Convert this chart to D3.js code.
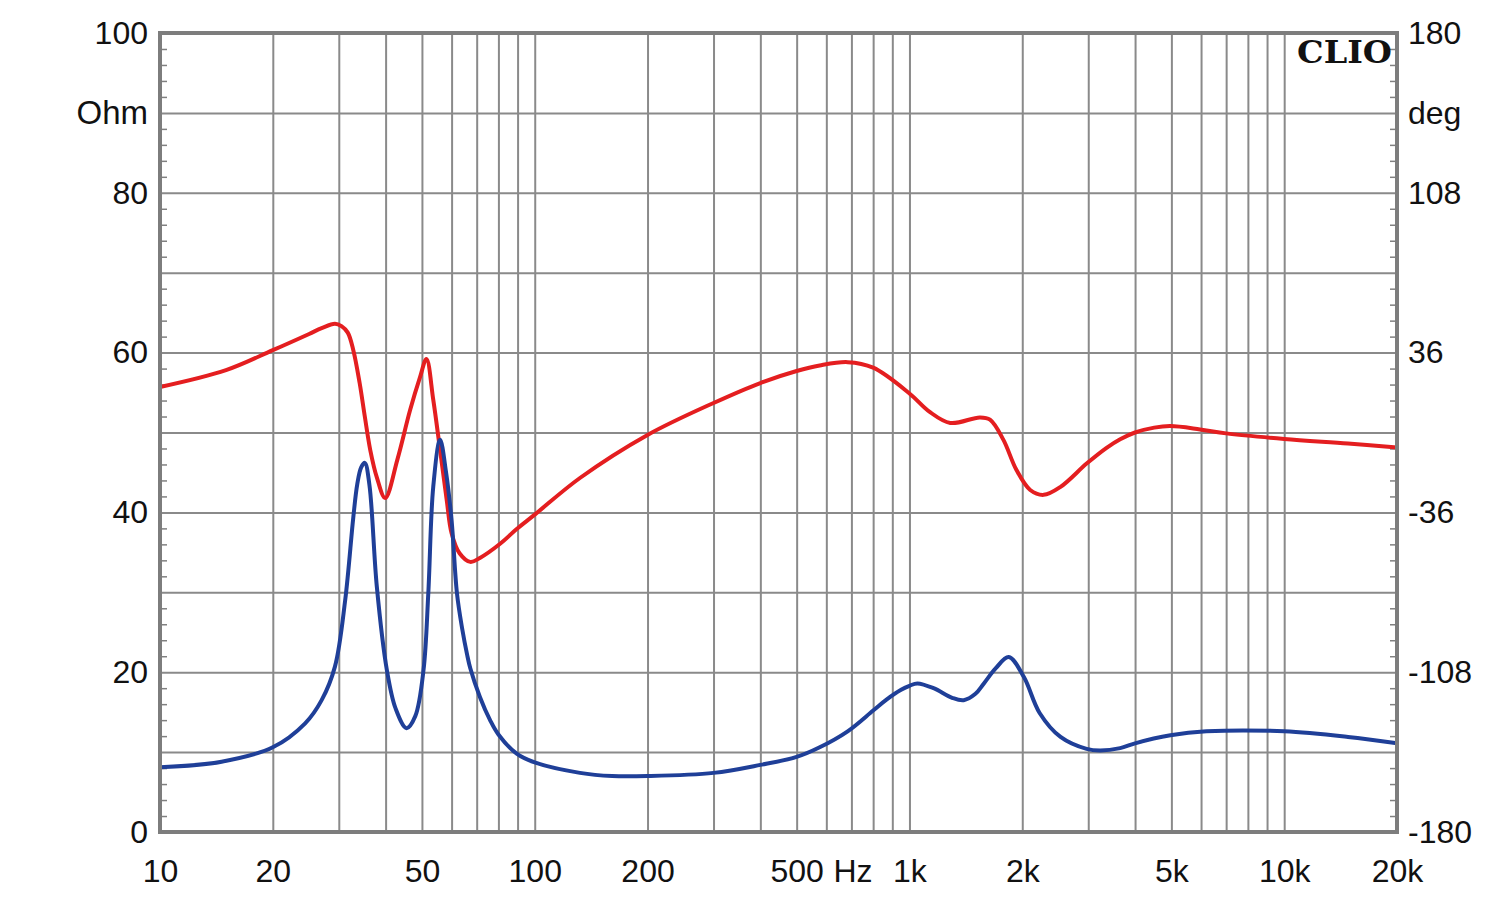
<!DOCTYPE html>
<html>
<head>
<meta charset="utf-8">
<script src="https://cdn.jsdelivr.net/npm/d3@7"></script>
<style>
  html, body { margin: 0; padding: 0; background: #ffffff; }
  svg { display: block; }
  text { font-family: "Liberation Sans", Arial, sans-serif; fill: #111; }
</style>
</head>
<body>
<svg id="chart" width="1500" height="902"></svg>
<script>
// ---------- data ----------
const impFreq = [10, 14.6, 20, 24.4, 27, 29.3, 31.2, 32.8, 33.6, 34.4, 35.2, 36.2, 37.9, 40.3, 42.5, 45.5, 48, 50.5, 52, 53.6, 55.9, 58, 60, 62, 64, 66, 67.3, 71.4, 76, 80, 89.5, 100, 132, 161, 200, 300, 400, 500, 576, 684, 800, 870, 950, 1000, 1050, 1160, 1300, 1395, 1500, 1580, 1700, 1840, 2020, 2225, 2530, 2970, 3230, 3650, 4000, 4970, 6200, 10000, 14800, 20000];
const impOhm  = [8.1, 8.8, 10.6, 13.6, 16.5, 20.7, 29, 39.4, 43.5, 45.6, 46.2, 43.5, 30.7, 20.3, 15.5, 13.0, 14.5, 20.3, 29.9, 43.2, 49.1, 45, 39.0, 29.9, 25.5, 22.2, 20.5, 16.9, 14.0, 12.2, 9.8, 8.7, 7.4, 7.0, 7.0, 7.4, 8.4, 9.4, 10.6, 12.6, 15.2, 16.6, 17.8, 18.3, 18.6, 18.0, 16.8, 16.5, 17.3, 18.6, 20.5, 21.9, 19.4, 14.9, 11.9, 10.4, 10.2, 10.5, 11.1, 12.1, 12.6, 12.6, 11.9, 11.1];

const phaseFreq = [10, 15, 20, 25, 27, 29.3, 30.5, 31.7, 32.8, 34.1, 35.2, 36.4, 37.9, 39.9, 43, 46.5, 49.4, 51.4, 53.6, 55.9, 58.2, 60, 63, 67.3, 71.4, 81, 89.5, 100, 132, 200, 300, 400, 500, 576, 684, 800, 1000, 1130, 1285, 1540, 1640, 1780, 1930, 2100, 2280, 2530, 2970, 3350, 3650, 4000, 4500, 4970, 5960, 7000, 10000, 14800, 20000];
const phaseDeg  = [20.5, 28.1, 37.1, 44.4, 47.0, 49.0, 47.9, 45.0, 37.1, 22.3, 7.2, -7.9, -20.2, -29.5, -12.2, 10.1, 24.8, 33.1, 14.8, -7.9, -30.2, -45.4, -54.4, -58.3, -56.5, -50.0, -43.5, -37.0, -20.5, -1.1, 13.3, 22.3, 27.7, 30.2, 31.7, 29.2, 17.6, 9.4, 4.3, 6.8, 5.8, -3.2, -16.9, -25.9, -28.1, -24.5, -14.0, -7.0, -3.0, 0.0, 2.2, 2.9, 1.4, -0.4, -2.9, -5.0, -6.8];

const xTickVals   = [10, 20, 50, 100, 200, 500, 1000, 2000, 5000, 10000, 20000];
const xTickLabels = ["10", "20", "50", "100", "200", "500", "1k", "2k", "5k", "10k", "20k"];
const leftTickVals   = [0, 20, 40, 60, 80, 100];
const rightTickVals  = [-180, -108, -36, 36, 108, 180];

// ---------- layout ----------
const L = 160, R = 1397, T = 33, B = 832;
const svg = d3.select("#chart");

const x = d3.scaleLog().domain([10, 20000]).range([L, R]);
const yL = d3.scaleLinear().domain([0, 100]).range([B, T]);
const yR = d3.scaleLinear().domain([-180, 180]).range([B, T]);

const gridColor = "#8a8a8a";

// vertical grid (log decades)
const vGrid = [];
[10, 100, 1000, 10000].forEach(d => { for (let k = 1; k < 10; k++) { const v = d * k; if (v > 10 && v < 20000) vGrid.push(v); } });
svg.append("g")
  .attr("transform", `translate(0,${B})`)
  .call(d3.axisBottom(x).tickValues(vGrid).tickSize(-(B - T)).tickFormat(""))
  .call(g => g.select(".domain").remove())
  .call(g => g.selectAll("line").attr("stroke", gridColor).attr("stroke-width", 2));

// horizontal grid
const hGrid = d3.range(10, 100, 10);
svg.append("g")
  .attr("transform", `translate(${L},0)`)
  .call(d3.axisLeft(yL).tickValues(hGrid).tickSize(-(R - L)).tickFormat(""))
  .call(g => g.select(".domain").remove())
  .call(g => g.selectAll("line").attr("stroke", gridColor).attr("stroke-width", 2));

// minor ticks inside left & right
const minor = d3.range(0, 101, 2).filter(v => v % 10 !== 0);
svg.append("g")
  .attr("transform", `translate(${L},0)`)
  .call(d3.axisLeft(yL).tickValues(minor).tickSize(-7).tickFormat(""))
  .call(g => g.select(".domain").remove())
  .call(g => g.selectAll("line").attr("stroke", "#808080").attr("stroke-width", 1.5));
svg.append("g")
  .attr("transform", `translate(${R},0)`)
  .call(d3.axisRight(yL).tickValues(minor).tickSize(-7).tickFormat(""))
  .call(g => g.select(".domain").remove())
  .call(g => g.selectAll("line").attr("stroke", "#808080").attr("stroke-width", 1.5));

// curves
const smooth = d3.curveCatmullRom.alpha(0.5);
const lineImp = d3.line().x(d => x(d[0])).y(d => yL(d[1])).curve(smooth);
const linePh  = d3.line().x(d => x(d[0])).y(d => yR(d[1])).curve(smooth);

svg.append("path")
  .datum(phaseFreq.map((f, i) => [f, phaseDeg[i]]))
  .attr("d", linePh)
  .attr("fill", "none").attr("stroke", "#e41e20").attr("stroke-width", 4)
  .attr("stroke-linejoin", "round");

svg.append("path")
  .datum(impFreq.map((f, i) => [f, impOhm[i]]))
  .attr("d", lineImp)
  .attr("fill", "none").attr("stroke", "#1f3f98").attr("stroke-width", 4)
  .attr("stroke-linejoin", "round");

// frame
svg.append("rect")
  .attr("x", L).attr("y", T).attr("width", R - L).attr("height", B - T)
  .attr("fill", "none").attr("stroke", "#7d7d7d").attr("stroke-width", 4);

// axis labels
const fs = 32;
const styleText = sel => sel.selectAll("text")
  .style("font-size", fs + "px").style("font-family", "Liberation Sans, Arial, sans-serif").attr("fill", "#111");

const axL = svg.append("g")
  .attr("transform", `translate(${L - 12},0)`)
  .call(d3.axisLeft(yL).tickValues(leftTickVals).tickSize(0).tickPadding(0).tickFormat(d => String(d)));
axL.select(".domain").remove();
styleText(axL);

const axR = svg.append("g")
  .attr("transform", `translate(${R + 11},0)`)
  .call(d3.axisRight(yR).tickValues(rightTickVals).tickSize(0).tickPadding(0).tickFormat(d => String(d)));
axR.select(".domain").remove();
styleText(axR);

const axB = svg.append("g")
  .attr("transform", `translate(0,${B + 27})`)
  .call(d3.axisBottom(x).tickValues(xTickVals).tickSize(0).tickPadding(0).tickFormat((d, i) => xTickLabels[i]));
axB.select(".domain").remove();
styleText(axB);

// unit labels
svg.append("text").attr("x", L - 12).attr("y", yL(90)).attr("dy", "0.35em")
  .attr("text-anchor", "end").style("font-size", "33px").text("Ohm");
svg.append("text").attr("x", R + 11).attr("y", yL(90)).attr("dy", "0.35em")
  .attr("text-anchor", "start").style("font-size", fs + "px").text("deg");
svg.append("text").attr("x", 853).attr("y", B + 27).attr("dy", "0.71em")
  .attr("text-anchor", "middle").style("font-size", fs + "px").text("Hz");

// CLIO logo
svg.append("text").attr("x", 1297).attr("y", 63)
  .attr("textLength", 95).attr("lengthAdjust", "spacingAndGlyphs")
  .style("font-family", "DejaVu Serif, Liberation Serif, serif")
  .style("font-weight", "bold").style("font-size", "32px").text("CLIO");
</script>
</body>
</html>
